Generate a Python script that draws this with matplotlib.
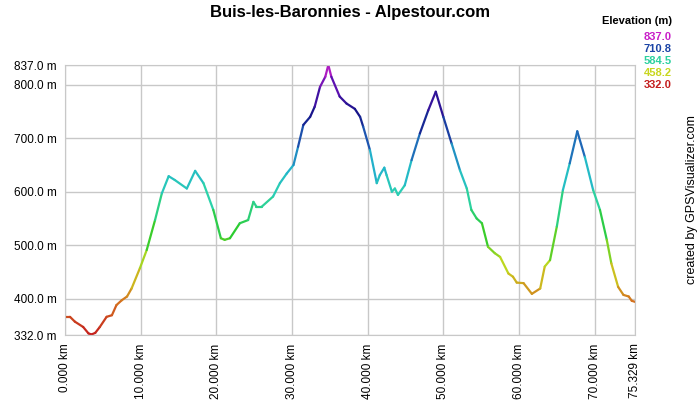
import numpy as np
import matplotlib.pyplot as plt
from matplotlib.collections import LineCollection
from matplotlib.colors import LinearSegmentedColormap, Normalize

plt.rcParams['font.family'] = ['Liberation Sans', 'DejaVu Sans']

# 距离 (km) 与海拔 (m)
dist_km = [0.0, 0.66, 1.3, 2.4, 3.1, 3.5, 4.0, 4.6, 5.5, 6.2, 6.8, 7.5, 8.2, 8.8,
           9.9, 10.8, 11.9, 12.8, 13.7, 14.5, 16.1, 17.2, 18.3, 19.6, 20.6, 21.1,
           21.8, 23.1, 24.2, 24.9, 25.3, 26.0, 27.5, 28.4, 29.3, 30.2, 30.8, 31.5,
           32.4, 33.0, 33.7, 34.4, 34.8, 35.2, 36.3, 37.2, 38.3, 39.0, 39.4, 40.3,
           41.2, 41.6, 42.2, 42.5, 43.2, 43.6, 44.0, 44.9, 45.8, 46.9, 48.0, 49.0,
           50.0, 51.1, 52.2, 53.1, 53.7, 54.4, 55.1, 55.9, 56.8, 57.5, 58.6, 59.2,
           59.7, 60.6, 61.7, 62.8, 63.4, 64.1, 65.0, 65.8, 66.7, 67.7, 68.7, 69.8,
           70.7, 71.6, 72.2, 73.1, 73.8, 74.5, 74.9, 75.329]
elev_m = [366, 366, 357, 347, 335, 333, 336, 347, 366, 369, 388, 397, 404, 419,
          457, 491, 547, 597, 629, 622, 606, 639, 616, 566, 513, 510,
          513, 541, 547, 581, 572, 572, 591, 616, 634, 650, 684, 725,
          740, 759, 796, 815, 837, 815, 778, 765, 755, 740, 722, 678,
          616, 631, 645, 631, 600, 606, 594, 612, 659, 709, 752, 787,
          740, 690, 640, 606, 566, 550, 541, 497, 485, 478, 447, 441,
          430, 429, 409, 419, 460, 472, 535, 603, 653, 713, 665, 603,
          566, 510, 466, 422, 407, 404, 396, 394]

y_ticks = [332, 400, 500, 600, 700, 800, 837]
x_ticks = [0, 10, 20, 30, 40, 50, 60, 70, 75.329]
legend_vals = [837.0, 710.8, 584.5, 458.2, 332.0]
title = 'Buis-les-Baronnies - Alpestour.com'

# 海拔颜色：红 -> 黄 -> 绿 -> 青 -> 蓝 -> 紫
cmap = LinearSegmentedColormap.from_list('elev', [
    (0.00, '#c41e1e'), (0.12, '#d4701e'), (0.25, '#c8d81e'), (0.38, '#2ccc2c'),
    (0.52, '#2cd2b0'), (0.62, '#22b4cc'), (0.72, '#1e5cb4'), (0.82, '#141488'),
    (0.92, '#5a10b0'), (1.00, '#c81ec8')])
norm = Normalize(vmin=332, vmax=837)

fig = plt.figure(figsize=(7, 4), dpi=100)
ax = fig.add_axes([65 / 700, 1 - 335 / 400, 570 / 700, 270 / 400])

x = np.array(dist_km)
y = np.array(elev_m)
pts = np.column_stack([x, y]).reshape(-1, 1, 2)
segs = np.concatenate([pts[:-1], pts[1:]], axis=1)
lc = LineCollection(segs, cmap=cmap, norm=norm, linewidths=1.6, capstyle='round')
lc.set_array((y[:-1] + y[1:]) / 2)
ax.add_collection(lc)

ax.set_xlim(0, 75.329)
ax.set_ylim(332, 837)
ax.set_yticks(y_ticks)
ax.set_yticklabels(['%.1f m' % v for v in y_ticks], fontsize=8.5)
ax.set_xticks(x_ticks)
ax.set_xticklabels(['%.3f km' % v for v in x_ticks], rotation=90, fontsize=8.5)
ax.tick_params(length=0, pad=6)
ax.grid(True, color='#c8c8c8', linewidth=1)
ax.set_axisbelow(True)
for s in ax.spines.values():
    s.set_color('#c8c8c8')

fig.text(0.5, 1 - 12 / 400, title, ha='center', va='center',
         fontsize=12, fontweight='bold')
fig.text(672 / 700, 1 - 21 / 400, 'Elevation (m)', ha='right', va='center',
         fontsize=8, fontweight='bold')
for i, v in enumerate(legend_vals):
    fig.text(672 / 700, 1 - (37 + 12 * i) / 400, '%.1f' % v, ha='right',
             va='center', fontsize=8, fontweight='bold', color=cmap(norm(v)))
fig.text(692 / 700, 1 - 200 / 400, 'created by GPSVisualizer.com', rotation=90,
         ha='center', va='center', fontsize=9)

fig.savefig('out.png', dpi=100)
